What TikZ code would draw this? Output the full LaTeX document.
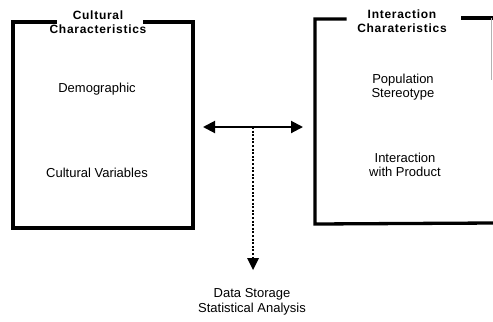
\documentclass[tikz,border=0pt]{standalone}
\usepackage{fontspec}
\setmainfont{Liberation Sans}
\newfontfamily\headfont[LetterSpace=6]{Liberation Sans Bold}
\usetikzlibrary{arrows.meta}
\begin{document}
\begin{tikzpicture}[x=1bp,y=-1bp,
  frame/.style={line width=3.3bp,line cap=rect,line join=miter},
  head/.style={font=\headfont\fontsize{12bp}{14bp}\selectfont,align=center,inner sep=0pt},
  body/.style={font=\fontsize{13bp}{14.5bp}\selectfont,align=center,inner sep=0pt},
  link/.style={line width=2bp,-{Triangle[length=12bp,width=12bp]}}]
\useasboundingbox (0,0) rectangle (493,321);
% left frame, open at the heading
\draw[frame] (55,22) -- (13,22) -- (13,228) -- (193,228) -- (193,22) -- (145,22);
% right frame, open on the right
\draw[frame] (345,19) -- (315,19) -- (315,224) -- (493,223);
\draw[frame] (463,18) -- (491,18);
\draw[gray!60,line width=0.6bp] (491,18) -- (491,80);
% texts
\node[head] (cult) at (98,22) {Cultural\\Characteristics};
\node[body] (demo) at (97,89) {Demographic};
\node[body] (cvar) at (97,173) {Cultural Variables};
\node[head] (inter) at (402,21) {Interaction\\Charateristics};
\node[body] (pop) at (403,87) {Population\\Stereotype};
\node[body] (iwp) at (405,165) {Interaction\\with Product};
\node[body] (data) at (252,302) {Data Storage\\Statistical Analysis};
% connectors
\coordinate (lt) at (203,127);
\coordinate (rt) at (303,127);
\coordinate (mid) at (253,127);
\coordinate (dn) at (253,270);
\draw[link,{Triangle[length=12bp,width=12bp]}-{Triangle[length=12bp,width=12bp]}] (lt) -- (rt);
\draw[line width=2.2bp,dash pattern=on 2bp off 1.6bp] (mid) -- ([yshift=11bp]dn);
\draw[link,line width=0pt] ([yshift=11bp]dn) -- (dn);
\end{tikzpicture}
\end{document}
